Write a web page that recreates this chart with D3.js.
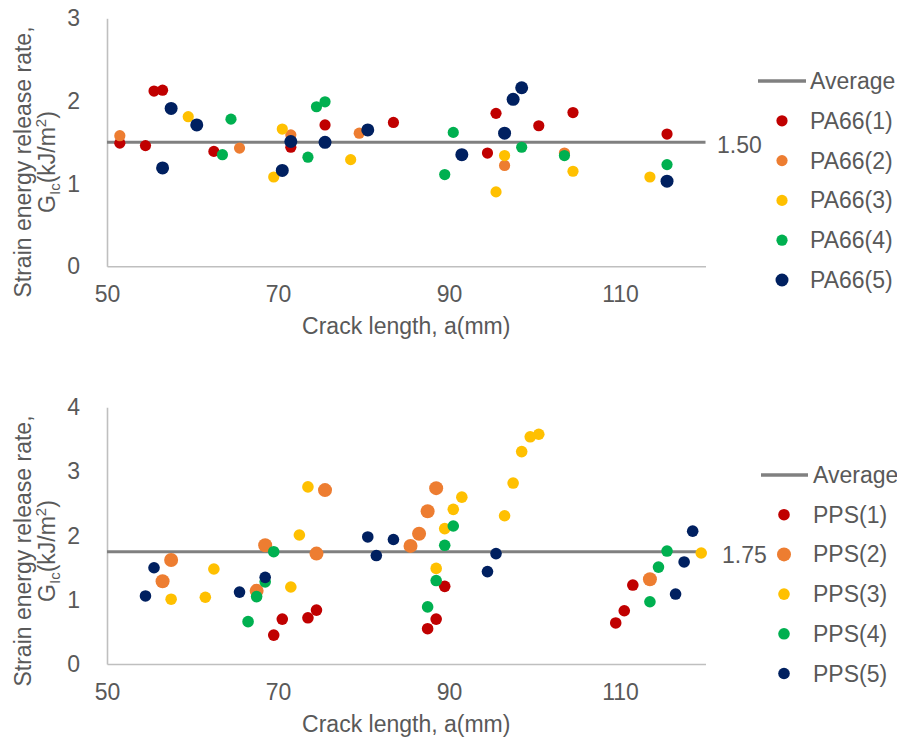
<!DOCTYPE html>
<html>
<head>
<meta charset="utf-8">
<script src="https://cdn.jsdelivr.net/npm/d3@7"></script>
<style>
  html, body { margin: 0; padding: 0; background: #fff; }
  svg text { font-family: "Liberation Sans", Arial, sans-serif; fill: #595959; }
</style>
</head>
<body>
<svg id="chart" width="897" height="742"></svg>
<script>
// Crack length ticks shared by both panels
const xTicks = [50, 70, 90, 110];

// PA66 specimens: [crack length (mm), G_Ic (kJ/m²)]
const pa66_1 = [[51.5,1.49],[54.5,1.46],[55.5,2.12],[56.5,2.13],[62.5,1.39],[71.5,1.44],[75.5,1.71],[83.5,1.74],[94.5,1.37],[95.5,1.85],[100.5,1.70],[104.5,1.86],[115.5,1.60]];
const pa66_2 = [[51.5,1.58],[65.5,1.43],[71.5,1.59],[79.5,1.61],[96.5,1.22],[103.5,1.37]];
const pa66_3 = [[59.5,1.81],[69.5,1.08],[70.5,1.66],[78.5,1.29],[95.5,0.90],[96.5,1.34],[104.5,1.15],[113.5,1.08]];
const pa66_4 = [[63.5,1.35],[64.5,1.78],[73.5,1.32],[74.5,1.93],[75.5,1.99],[89.5,1.11],[90.5,1.62],[98.5,1.44],[103.5,1.34],[115.5,1.23]];
const pa66_5 = [[56.5,1.19],[57.5,1.91],[60.5,1.71],[70.5,1.16],[71.5,1.51],[75.5,1.50],[80.5,1.65],[91.5,1.35],[96.5,1.61],[97.5,2.02],[98.5,2.16],[115.5,1.03]];
const pa66Names = ["PA66(1)", "PA66(2)", "PA66(3)", "PA66(4)", "PA66(5)"];
const pa66Average = 1.50;
const pa66YTicks = [0, 1, 2, 3];

// PPS specimens: [crack length (mm), G_Ic (kJ/m²)]
const pps_1 = [[69.5,0.45],[70.5,0.70],[73.5,0.72],[74.5,0.84],[87.5,0.55],[88.5,0.70],[89.5,1.21],[109.5,0.64],[110.5,0.83],[111.5,1.23]];
const pps_2 = [[56.5,1.29],[57.5,1.62],[67.5,1.14],[68.5,1.85],[74.5,1.72],[75.5,2.71],[85.5,1.84],[86.5,2.03],[87.5,2.38],[88.5,2.74],[113.5,1.32]];
const pps_3 = [[57.5,1.01],[61.5,1.04],[62.5,1.48],[71.5,1.20],[72.5,2.01],[73.5,2.76],[88.5,1.49],[89.5,2.11],[90.5,2.41],[91.5,2.60],[96.5,2.31],[97.5,2.82],[98.5,3.31],[99.5,3.54],[100.5,3.58],[119.5,1.73]];
const pps_4 = [[66.5,0.66],[67.5,1.05],[68.5,1.28],[69.5,1.75],[87.5,0.89],[88.5,1.30],[89.5,1.85],[90.5,2.15],[113.5,0.97],[114.5,1.51],[115.5,1.76]];
const pps_5 = [[54.5,1.06],[55.5,1.50],[65.5,1.12],[68.5,1.35],[80.5,1.98],[81.5,1.69],[83.5,1.94],[94.5,1.44],[95.5,1.72],[116.5,1.09],[117.5,1.59],[118.5,2.07]];
const ppsNames = ["PPS(1)", "PPS(2)", "PPS(3)", "PPS(4)", "PPS(5)"];
const ppsAverage = 1.75;
const ppsYTicks = [0, 1, 2, 3, 4];

const seriesColors = ["#C00000", "#ED7D31", "#FFC000", "#00B050", "#002060"];

const svg = d3.select("#chart");
const FONT = 23;

function drawPanel(opt) {
  const g = svg.append("g");
  const x = d3.scaleLinear().domain([50, 120]).range([107, 705.5]);
  const y = d3.scaleLinear().domain([0, opt.yMax]).range([opt.bottom, opt.top]);

  // Axes
  const xAxis = g.append("g")
    .attr("transform", `translate(0,${opt.bottom})`)
    .call(d3.axisBottom(x).tickValues(xTicks).tickSize(0).tickSizeOuter(0).tickPadding(19.5).tickFormat(d3.format("d")));
  const yAxis = g.append("g")
    .attr("transform", `translate(${x(50)},0)`)
    .call(d3.axisLeft(y).tickValues(opt.yTicks).tickSize(0).tickSizeOuter(0).tickPadding(27).tickFormat(d3.format("d")));
  [xAxis, yAxis].forEach(a => {
    a.select(".domain").attr("stroke", "#BFBFBF").attr("stroke-width", 1.6);
    a.selectAll("text").attr("font-size", FONT).attr("fill", "#595959")
      .style("font-family", '"Liberation Sans", Arial, sans-serif');
  });

  // Axis titles
  g.append("text")
    .attr("x", (x(50) + x(120)) / 2)
    .attr("y", opt.bottom + 68)
    .attr("text-anchor", "middle")
    .attr("font-size", FONT)
    .text("Crack length, a(mm)");

  const yt = g.append("g").attr("transform", `translate(0,${opt.titleY}) rotate(-90)`);
  yt.append("text").attr("x", 0).attr("y", 31).attr("text-anchor", "middle")
    .attr("font-size", FONT).text("Strain energy release rate,");
  const l2 = yt.append("text").attr("x", 0).attr("y", 55).attr("text-anchor", "middle")
    .attr("font-size", FONT);
  l2.append("tspan").text("G");
  l2.append("tspan").attr("font-size", 15).attr("dy", 5).text("Ic");
  l2.append("tspan").attr("dy", -5).text("(kJ/m");
  l2.append("tspan").attr("font-size", 15).attr("dy", -9).text("2");
  l2.append("tspan").attr("dy", 9).text(")");

  // Average line and value label
  g.append("line")
    .attr("x1", x(50)).attr("x2", x(120))
    .attr("y1", y(opt.average)).attr("y2", y(opt.average))
    .attr("stroke", "#808080").attr("stroke-width", 3);
  g.append("text")
    .attr("x", opt.avgLabelX)
    .attr("y", y(opt.average) + 3)
    .attr("dy", "0.35em")
    .attr("font-size", FONT)
    .text(d3.format(".2f")(opt.average));

  // Scatter points, specimen 1 drawn first
  opt.series.forEach((s, i) => {
    g.append("g").selectAll("circle").data(s).join("circle")
      .attr("cx", d => x(d[0]))
      .attr("cy", d => y(d[1]))
      .attr("r", opt.radii[i])
      .attr("fill", seriesColors[i]);
  });

  // Legend
  const lg = g.append("g");
  lg.append("line")
    .attr("x1", opt.legend.lineX1).attr("x2", opt.legend.lineX2)
    .attr("y1", opt.legend.y0).attr("y2", opt.legend.y0)
    .attr("stroke", "#808080").attr("stroke-width", 3.5);
  lg.append("text")
    .attr("x", opt.legend.textX).attr("y", opt.legend.y0).attr("dy", "0.35em")
    .attr("font-size", FONT).text("Average");
  opt.names.forEach((name, i) => {
    const yy = opt.legend.y0 + (i + 1) * opt.legend.step;
    lg.append("circle").attr("cx", opt.legend.markerX).attr("cy", yy)
      .attr("r", opt.radii[i]).attr("fill", seriesColors[i]);
    lg.append("text").attr("x", opt.legend.textX).attr("y", yy).attr("dy", "0.35em")
      .attr("font-size", FONT).text(name);
  });
}

drawPanel({
  top: 18.3, bottom: 266.3, yMax: 3, yTicks: pa66YTicks,
  average: pa66Average, avgLabelX: 717, titleY: 162,
  series: [pa66_1, pa66_2, pa66_3, pa66_4, pa66_5], names: pa66Names,
  radii: [5.6, 5.6, 5.6, 5.6, 6.5],
  legend: { lineX1: 758, lineX2: 806, markerX: 782, textX: 810, y0: 81, step: 39.8 }
});

drawPanel({
  top: 407.3, bottom: 664, yMax: 4, yTicks: ppsYTicks,
  average: ppsAverage, avgLabelX: 722, titleY: 551,
  series: [pps_1, pps_2, pps_3, pps_4, pps_5], names: ppsNames,
  radii: [5.8, 7, 5.8, 5.8, 5.8],
  legend: { lineX1: 761, lineX2: 808, markerX: 784, textX: 813, y0: 475, step: 39.7 }
});
</script>
</body>
</html>
